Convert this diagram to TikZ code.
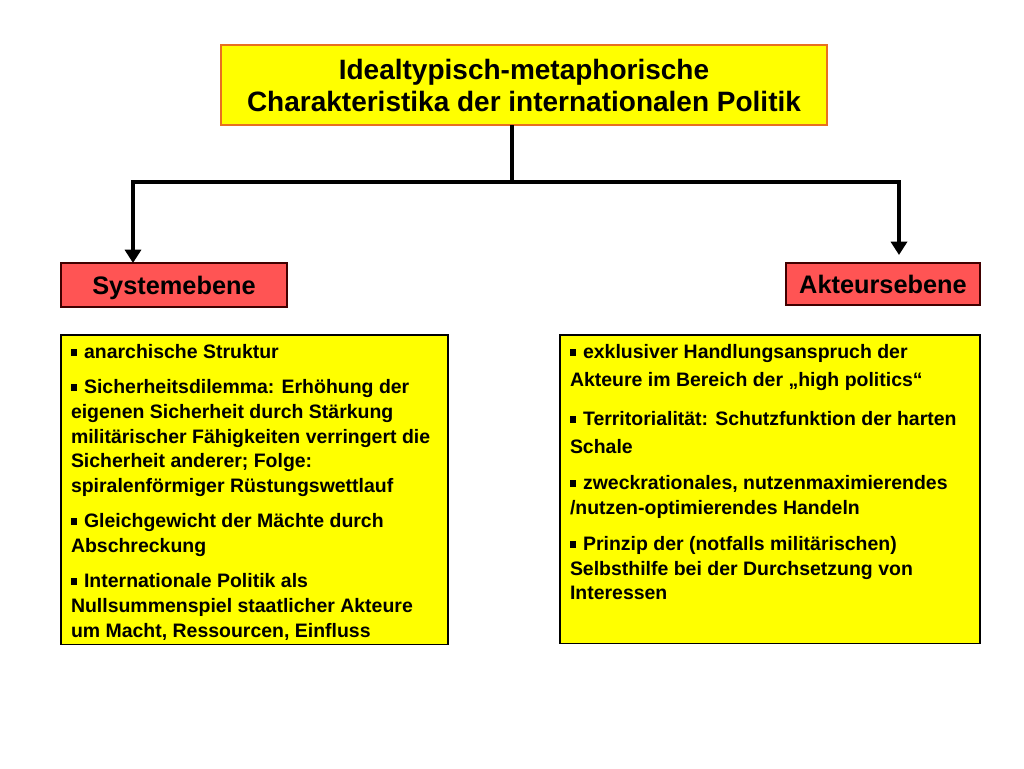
\documentclass[tikz,border=0pt]{standalone}
\usepackage{fontspec}
\setmainfont{Liberation Sans}
\usepackage{tikz}
\usetikzlibrary{arrows.meta,positioning,calc}
\usepackage{xcolor}
\definecolor{gelb}{RGB}{255,255,0}
\definecolor{ebenerot}{RGB}{255,84,84}
\definecolor{titelrand}{RGB}{232,112,32}
\newcommand{\punkt}{\rule[2.2pt]{4.8pt}{4.8pt}\hspace{5pt}}
\tikzset{spitze/.tip={Triangle[width=12pt,length=10pt]}}

\begin{document}
\begin{tikzpicture}[x=0.75pt,y=-0.75pt,
  every node/.style={font=\bfseries,outer sep=0pt},
  titel/.style={draw=titelrand,line width=0.8pt,fill=gelb,align=center,
    minimum width=454.5pt,minimum height=60pt,font=\bfseries\fontsize{21}{24}\selectfont},
  ebene/.style={draw=black!75!red,line width=0.8pt,fill=ebenerot,text depth=0pt,
    font=\bfseries\fontsize{19}{22}\selectfont},
  liste/.style={draw=black,line width=0.8pt,fill=gelb,anchor=north west,
    inner xsep=7.5pt,inner ysep=7pt,font=\bfseries\fontsize{14.6}{18.5}\selectfont}]
\useasboundingbox (0,0) rectangle (1024,768);
% Kopf
\node[titel] (titel) at (524,85) {Idealtypisch-metaphorische\\Charakteristika der internationalen Politik};
% Ebenen
\node[ebene,minimum width=169.5pt,minimum height=33pt] (sys) at (174,285) {Systemebene};
\node[ebene,minimum width=145.5pt,minimum height=31.5pt] (akt) at (883,284) {Akteursebene};
% Verzweigung
\coordinate (mitte) at (512,182);
\coordinate (links) at (133,182);
\coordinate (rechts) at (899,182);
\draw[line width=3pt] (titel.south -| mitte) -- (mitte);
\draw[line width=3pt,spitze-spitze,shorten >=6pt,line join=miter]
  (sys.north -| links) -- (links) -- (rechts) -- (akt.north -| rechts);
% Listen
\node[liste] (sysliste) at (61,335) {\parbox[t][218pt][t]{275.25pt}{\raggedright\setlength{\parskip}{8pt}%
\punkt anarchische Struktur\par
\punkt Sicherheitsdilemma: Erhöhung der\\eigenen Sicherheit durch Stärkung\\militärischer Fähigkeiten verringert die\\Sicherheit anderer; Folge:\\spiralenförmiger Rüstungswettlauf\par
\punkt Gleichgewicht der Mächte durch\\Abschreckung\par
\punkt Internationale Politik als\\Nullsummenspiel staatlicher Akteure\\um Macht, Ressourcen, Einfluss\par}};
\node[liste] (aktliste) at (560,335) {\parbox[t][217.5pt][t]{300pt}{\raggedright\setlength{\parskip}{8.5pt}%
{\fontsize{14.6}{21}\selectfont\punkt exklusiver Handlungsanspruch der\\Akteure im Bereich der „high politics“\par
\punkt Territorialität: Schutzfunktion der harten\\Schale\par}
\punkt zweckrationales, nutzenmaximierendes\\/nutzen-optimierendes Handeln\par
\punkt Prinzip der (notfalls militärischen)\\Selbsthilfe bei der Durchsetzung von\\Interessen\par}};
\end{tikzpicture}
\end{document}
